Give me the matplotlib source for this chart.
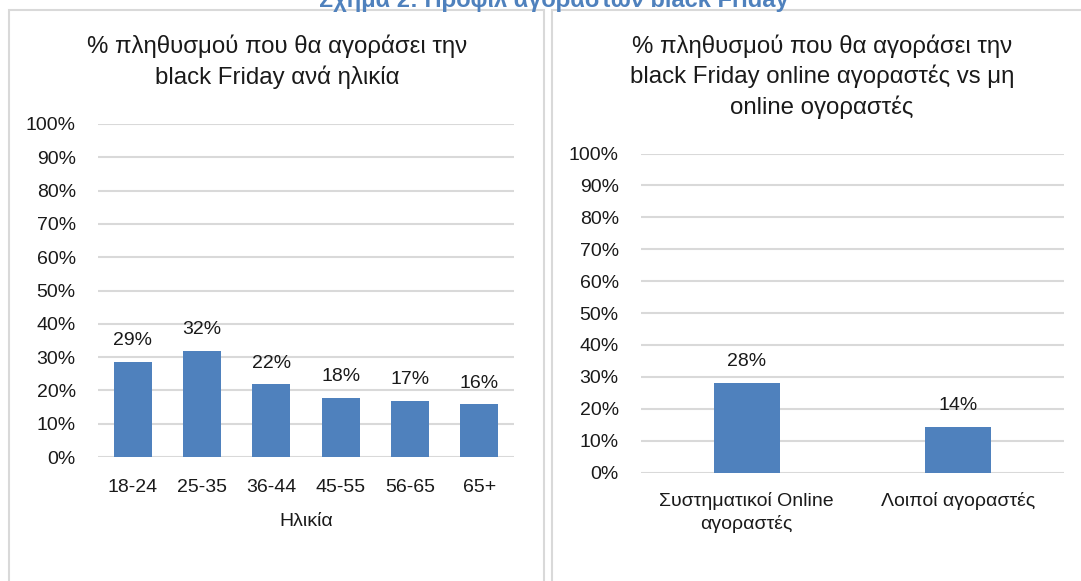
import matplotlib.pyplot as plt
from matplotlib.patches import Rectangle

plt.rcParams["font.family"] = ["Liberation Sans", "DejaVu Sans"]

FIG_TITLE = "Σχήμα 2: Προφίλ αγοραστών black Friday"

AGE_TITLE = ["% πληθυσμού που θα αγοράσει την", "black Friday ανά ηλικία"]
age_groups = ["18-24", "25-35", "36-44", "45-55", "56-65", "65+"]
age_share = [0.286, 0.318, 0.218, 0.178, 0.169, 0.158]
AGE_XLABEL = "Ηλικία"

BUYER_TITLE = ["% πληθυσμού που θα αγοράσει την",
               "black Friday online αγοραστές vs μη",
               "online ογοραστές"]
buyer_groups = ["Συστηματικοί Online\nαγοραστές", "Λοιποί αγοραστές"]
buyer_share = [0.281, 0.144]

y_ticks = [i / 10 for i in range(11)]

BAR = "#4F81BD"
GRID = "#D9D9D9"
TXT = "#1A1A1A"
W, H = 1081, 581
FS = 14


def px(x0, y_top, x1, y_bot):
    return [x0 / W, (H - y_bot) / H, (x1 - x0) / W, (y_bot - y_top) / H]


def style_axes(ax, cats, vals, width, xpad):
    xs = range(len(cats))
    ax.bar(xs, vals, width=width, color=BAR, zorder=2)
    for x, v in zip(xs, vals):
        ax.annotate(f"{v:.0%}", (x, v), xytext=(0, 12), textcoords="offset points",
                    ha="center", va="baseline", fontsize=FS, color=TXT)
    ax.set_ylim(0, 1)
    ax.set_xlim(-0.5, len(cats) - 0.5)
    ax.set_yticks(y_ticks)
    ax.set_yticklabels([f"{t:.0%}" for t in y_ticks])
    ax.set_xticks(list(xs))
    ax.set_xticklabels(cats, linespacing=1.35)
    ax.tick_params(axis="y", length=0, pad=16, labelsize=FS, labelcolor=TXT)
    ax.tick_params(axis="x", length=0, pad=xpad, labelsize=FS, labelcolor=TXT)
    ax.yaxis.grid(True, color=GRID, linewidth=1.5, zorder=0)
    ax.set_axisbelow(True)
    for s in ax.spines.values():
        s.set_visible(False)


fig = plt.figure(figsize=(W / 100, H / 100), dpi=100)

# panel frames
fig.patches.append(Rectangle((9 / W, -0.1), (544 - 9) / W, (H - 9.5) / H + 0.1,
                             transform=fig.transFigure, fill=False,
                             edgecolor=GRID, linewidth=1.5))
fig.patches.append(Rectangle((552 / W, -0.1), 0.6, (H - 9.5) / H + 0.1,
                             transform=fig.transFigure, fill=False,
                             edgecolor=GRID, linewidth=1.5))

fig.text(554 / W, 1 - 7 / H, FIG_TITLE, ha="center", va="baseline",
         fontsize=17, fontweight="bold", color=BAR)

ax1 = fig.add_axes(px(98, 124, 514, 457))
style_axes(ax1, age_groups, age_share, 0.55, 16)
ax1.set_xlabel(AGE_XLABEL, fontsize=FS, color=TXT, labelpad=12)
for i, line in enumerate(AGE_TITLE):
    fig.text(277 / W, 1 - (46 + 31 * i) / H, line, ha="center", va="center",
             fontsize=17.3, color=TXT)

ax2 = fig.add_axes(px(641, 153.5, 1064, 472.6))
style_axes(ax2, buyer_groups, buyer_share, 0.31, 14)
for i, line in enumerate(BUYER_TITLE):
    fig.text(822 / W, 1 - (46 + 30.5 * i) / H, line, ha="center", va="center",
             fontsize=17.3, color=TXT)

fig.savefig("out.png", dpi=100)
